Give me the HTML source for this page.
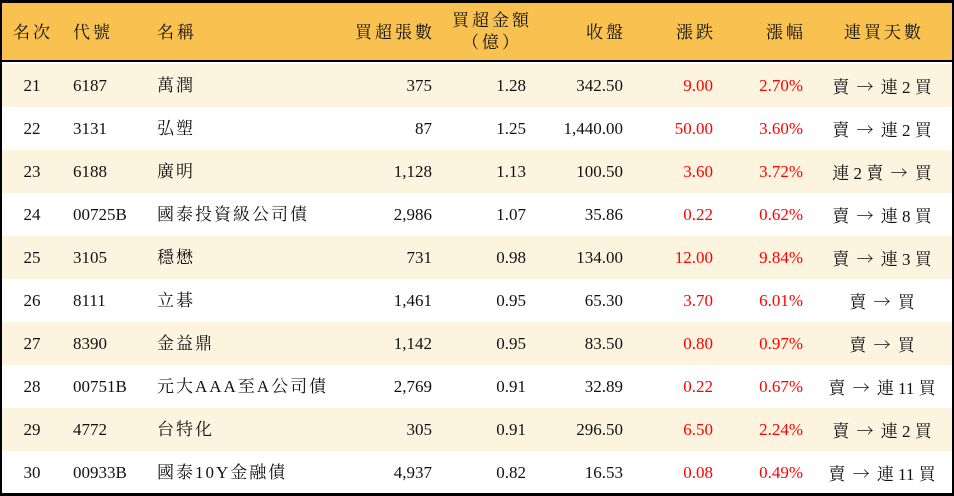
<!DOCTYPE html>
<html><head><meta charset="utf-8"><style>
*{margin:0;padding:0;box-sizing:border-box}
body{width:954px;height:496px;overflow:hidden;background:#fff;font-family:"Liberation Serif","Noto Serif CJK SC",serif;font-size:17px;color:#111}
#t{position:absolute;left:0;top:0;width:954px;height:496px;border:2px solid #000;border-top-width:3px;border-bottom-width:3px}
.hd{position:absolute;left:0;top:0;width:950px;height:59px;background:#f8c150;border-bottom:2px solid #000}
.hd .x{letter-spacing:3px}
.hd .R{margin-right:-3px}
.r{position:absolute;left:0;width:950px;height:43px}
.c{background:#fdf4e0}
.x{position:absolute;white-space:nowrap;line-height:20px}
.R{text-align:right}
.C{text-align:center}
.red{color:#f00}
.ar{font-family:"Noto Serif CJK SC",serif;margin:0 3px}
</style></head><body>
<div id="t">
<div class="hd">
<div class="x" style="left:11px;top:20px">名次</div>
<div class="x" style="left:71px;top:20px">代號</div>
<div class="x" style="left:155px;top:20px">名稱</div>
<div class="x R" style="right:520px;top:20px">買超張數</div>
<div class="x C" style="left:440px;width:100px;top:8px">買超金額</div>
<div class="x C" style="left:440px;width:100px;top:30px">（億）</div>
<div class="x R" style="right:329px;top:20px">收盤</div>
<div class="x R" style="right:239px;top:20px">漲跌</div>
<div class="x R" style="right:149px;top:20px">漲幅</div>
<div class="x C" style="left:822px;width:120px;top:20px">連買天數</div>
</div>
<div id="rows"></div>
</div>
<script>
var d=[["21","6187","萬潤","375","1.28","342.50","9.00","2.70%","賣 → 連 2 買"],
["22","3131","弘塑","87","1.25","1,440.00","50.00","3.60%","賣 → 連 2 買"],
["23","6188","廣明","1,128","1.13","100.50","3.60","3.72%","連 2 賣 → 買"],
["24","00725B","國泰投資級公司債","2,986","1.07","35.86","0.22","0.62%","賣 → 連 8 買"],
["25","3105","穩懋","731","0.98","134.00","12.00","9.84%","賣 → 連 3 買"],
["26","8111","立碁","1,461","0.95","65.30","3.70","6.01%","賣 → 買"],
["27","8390","金益鼎","1,142","0.95","83.50","0.80","0.97%","賣 → 買"],
["28","00751B","元大AAA至A公司債","2,769","0.91","32.89","0.22","0.67%","賣 → 連 11 買"],
["29","4772","台特化","305","0.91","296.50","6.50","2.24%","賣 → 連 2 買"],
["30","00933B","國泰10Y金融債","4,937","0.82","16.53","0.08","0.49%","賣 → 連 11 買"]];
var h="";
d.forEach(function(r,i){
var s=r[8].replace(/ /g,'&nbsp;').replace('→','<span class="ar">→</span>');
h+='<div class="r'+(i%2==0?' c':'')+'" style="top:'+(61+i*43)+'px">'+
'<div class="x C" style="left:8px;width:44px;top:12px">'+r[0]+'</div>'+
'<div class="x" style="left:71px;top:12px">'+r[1]+'</div>'+
'<div class="x" style="left:155px;top:12px;letter-spacing:2px">'+r[2]+'</div>'+
'<div class="x R" style="right:520px;top:12px">'+r[3]+'</div>'+
'<div class="x R" style="right:426px;top:12px">'+r[4]+'</div>'+
'<div class="x R" style="right:329px;top:12px">'+r[5]+'</div>'+
'<div class="x R red" style="right:239px;top:12px">'+r[6]+'</div>'+
'<div class="x R red" style="right:149px;top:12px">'+r[7]+'</div>'+
'<div class="x C" style="left:812px;width:136px;top:12px">'+s+'</div></div>';});
document.getElementById("rows").innerHTML=h;
</script>
</body></html>
